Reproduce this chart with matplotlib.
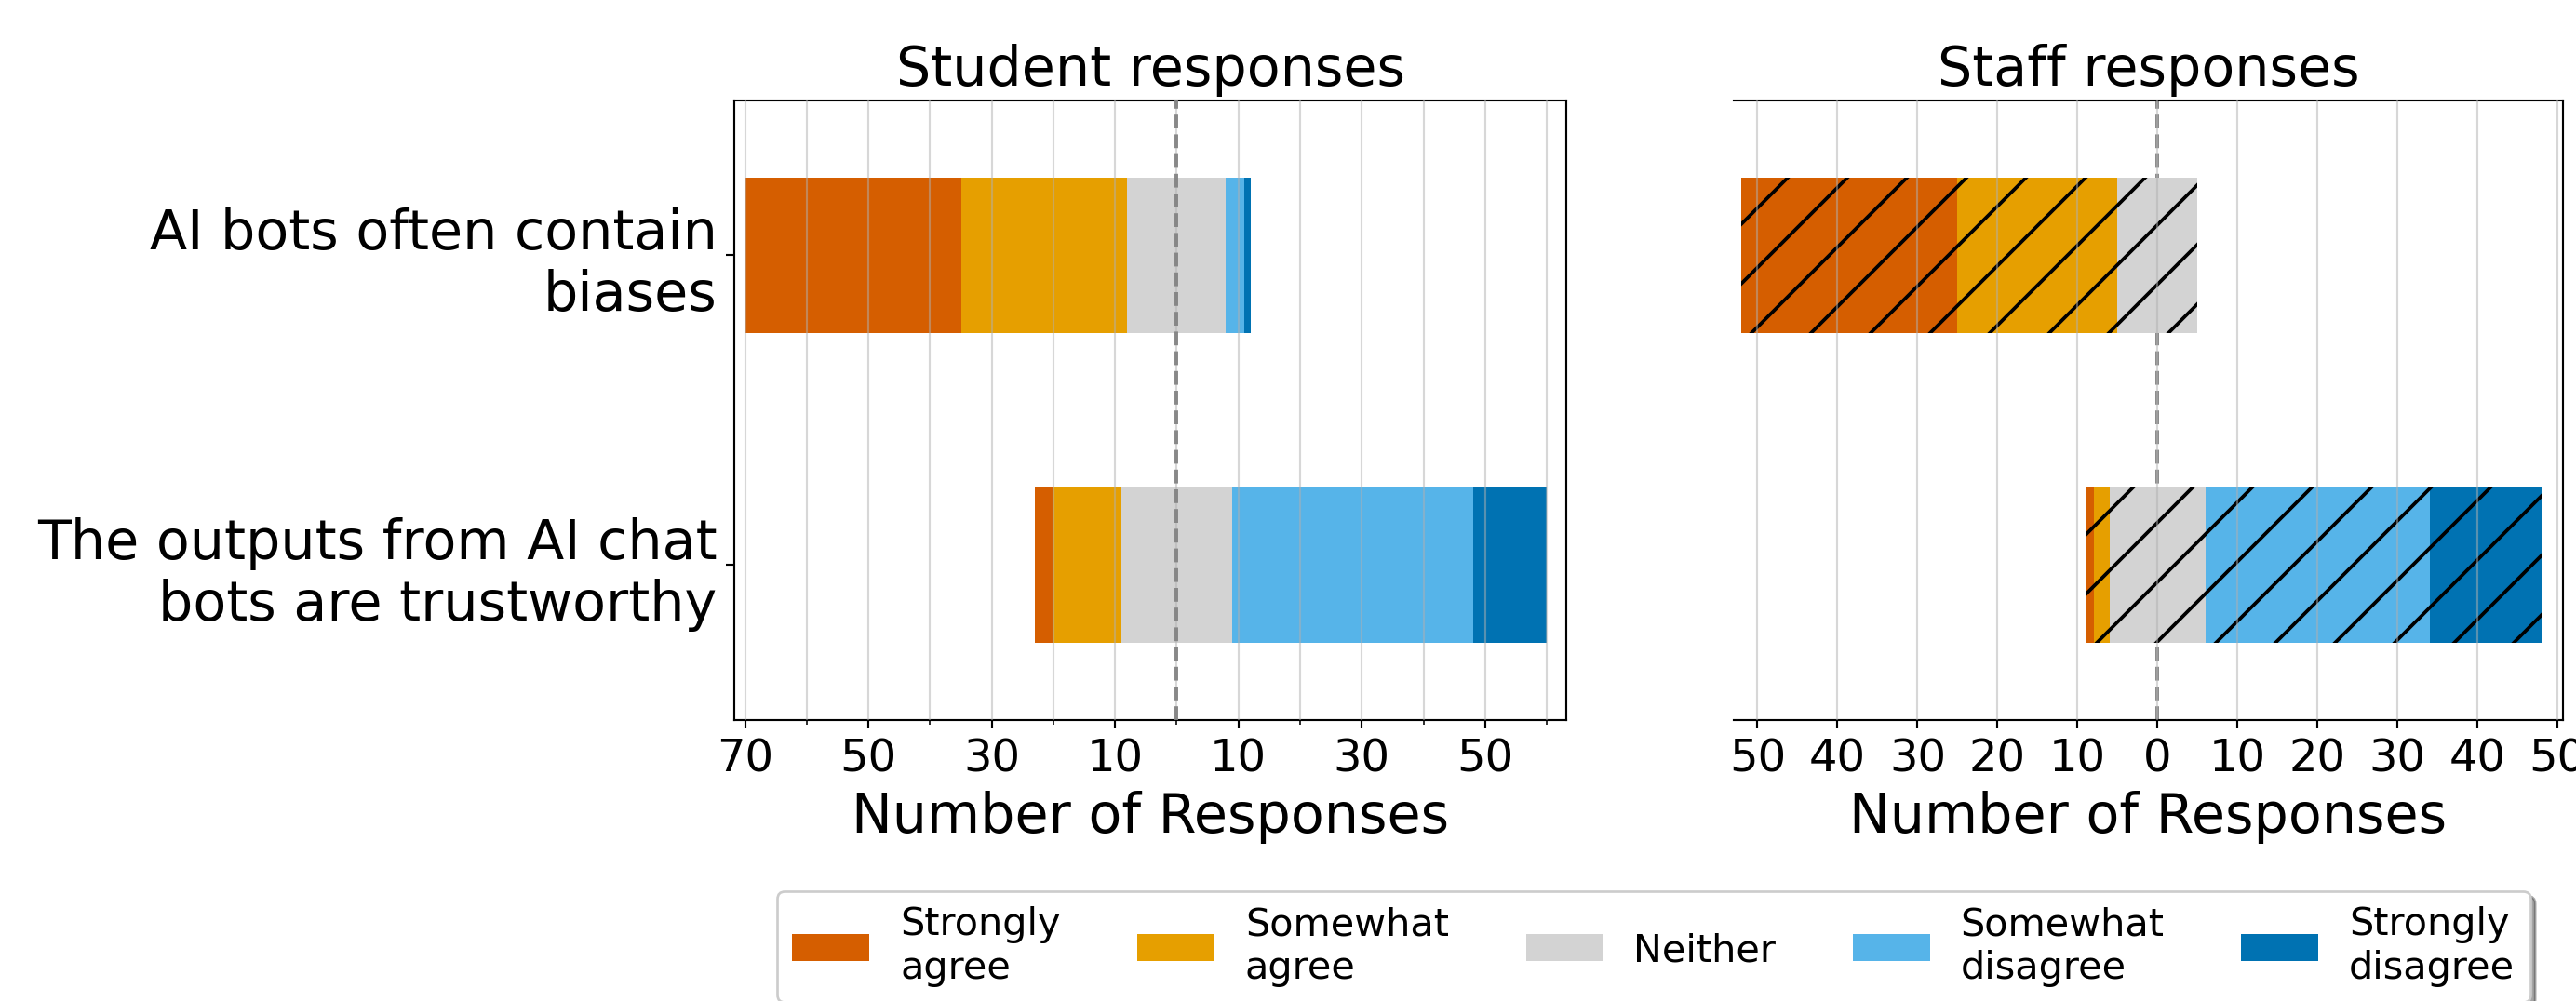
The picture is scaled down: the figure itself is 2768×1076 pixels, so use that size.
import numpy as np
import matplotlib
matplotlib.use("Agg")
import matplotlib.pyplot as plt

# Datos
preguntas = ["AI bots often contain\nbiases",
             "The outputs from AI chat\nbots are trustworthy"]
categorias = ["Strongly\nagree", "Somewhat\nagree", "Neither",
              "Somewhat\ndisagree", "Strongly\ndisagree"]
colores = ["#D55E00", "#E69F00", "#D3D3D3", "#56B4E9", "#0072B2"]

# filas = preguntas, columnas = categorias
estudiantes = np.array([[35, 27, 16, 3, 1],
                        [3, 11, 18, 39, 12]])
personal = np.array([[27, 20, 10, 0, 0],
                     [1, 2, 12, 28, 14]])

est_ticks = [-70, -50, -30, -10, 10, 30, 50]
est_minor = [-60, -40, -20, 0, 20, 40, 60]
per_ticks = list(range(-50, 51, 10))

plt.rcParams["hatch.linewidth"] = 1.4

DPI = 192
fig = plt.figure(figsize=(2768 / DPI, 1076 / DPI), dpi=DPI)
ax1 = fig.add_axes([0.28515, 0.28067, 0.32298, 0.61924])
ax2 = fig.add_axes([0.67294, 0.28067, 0.32200, 0.61924])


def dibujar(ax, datos, hatch=None, z_linea=3):
    y = np.arange(len(preguntas))
    # inicio de cada barra: centrado en la mitad de "Neither"
    inicio = -(datos[:, 0] + datos[:, 1] + datos[:, 2] / 2)
    acum = inicio.copy()
    barras = []
    for j in range(len(categorias)):
        if hatch:
            b = ax.barh(y, datos[:, j], left=acum, height=0.5, color=colores[j],
                        edgecolor="black", linewidth=0, hatch=hatch,
                        label=categorias[j])
        else:
            b = ax.barh(y, datos[:, j], left=acum, height=0.5, color=colores[j],
                        linewidth=0, label=categorias[j])
        barras.append(b)
        acum = acum + datos[:, j]
    ax.axvline(0, color="gray", linestyle="--", linewidth=1.5, alpha=0.9, zorder=z_linea)
    ax.set_ylim(1.5, -0.5)
    ax.set_axisbelow(False)
    ax.set_xlabel("Number of Responses", fontsize=22)
    ax.tick_params(axis="x", labelsize=18)
    return barras


barras = dibujar(ax1, estudiantes)
ax1.set_title("Student responses", fontsize=22)
ax1.set_xlim(-71.7, 63.2)
ax1.set_xticks(est_ticks)
ax1.set_xticklabels([str(abs(t)) for t in est_ticks])
ax1.set_xticks(est_minor, minor=True)
ax1.grid(axis="x", which="both", color="#b0b0b0", alpha=0.5, linewidth=0.8)
ax1.set_yticks(range(len(preguntas)))
ax1.set_yticklabels(preguntas, fontsize=22)

dibujar(ax2, personal, hatch="/", z_linea=0.5)
ax2.set_title("Staff responses", fontsize=22)
ax2.set_xlim(-53.0, 50.66)
ax2.set_xticks(per_ticks)
ax2.set_xticklabels([str(abs(t)) for t in per_ticks])
ax2.grid(axis="x", color="#b0b0b0", alpha=0.5, linewidth=0.8)
ax2.set_yticks([])
ax2.spines["left"].set_visible(False)

fig.legend(barras, categorias, ncol=5, loc="upper center",
           bbox_to_anchor=(0.6419, 0.1097), borderaxespad=0,
           fontsize=15.5, shadow=True)

fig.savefig("out.png", dpi=DPI)
